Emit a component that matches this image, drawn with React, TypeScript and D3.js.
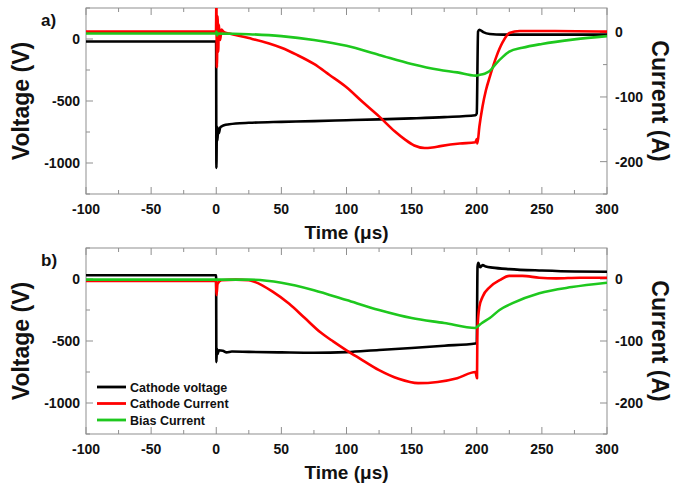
import React from "react";
import * as d3 from "d3";

// ---------- data ----------
const timeTicks = [-100, -50, 0, 50, 100, 150, 200, 250, 300];
const timeMinorTicks = [-75, -25, 25, 75, 125, 175, 225, 275];
const voltageTicks = [0, -500, -1000];
const voltageMinorTicks = [250, -250, -750, -1250];
const currentTicks = [0, -100, -200];
const currentMinorTicks = [-50, -150, -250];
const legendLabels = ["Cathode voltage", "Cathode Current", "Bias Current"];
const seriesColors = ["#000000", "#ff0000", "#1ec81e"];

// panel a) — [time µs, value]
const aCathodeVoltage: [number, number][] = [
  [-100, -20], [-0.1, -20], [0.1, -1040], [0.5, -700], [0.9, -820], [1.4, -720],
  [2, -760], [3, -715], [4, -705], [6, -695], [10, -688], [15, -682], [25, -676],
  [50, -668], [75, -662], [100, -655], [125, -648], [150, -640], [175, -630],
  [199, -615], [200, -600], [201, 60], [202, 75], [205, 55], [210, 40], [220, 35],
  [250, 35], [300, 35],
];
const aCathodeCurrent: [number, number][] = [
  [-100, 1], [-0.2, 1], [0.1, 45], [0.5, -54], [1, 25], [1.5, -30], [2, 12],
  [3, -12], [4, 4], [6, 0], [10, -2], [25, -9], [40, -17], [50, -24], [62, -35],
  [75, -49], [87, -66], [100, -85], [112, -107], [125, -130], [137, -153],
  [145, -166], [152, -175], [160, -179], [166, -178], [172, -176], [187, -172],
  [199, -170], [200, -165], [200.5, -172], [202, -146], [204.4, -115], [207, -90],
  [210, -69], [215, -38], [220, -15], [225, -1], [233, 2], [260, 2], [300, 1],
];
const aBiasCurrent: [number, number][] = [
  [-100, -2], [-0.3, -2], [0.2, 1], [0.6, -5], [1.2, -2], [25, -3], [50, -6],
  [75, -12], [100, -21], [125, -35], [150, -49], [171, -58], [185, -62],
  [199, -67], [202, -66], [206, -64], [210, -60], [215, -48], [220, -38],
  [225, -30], [235, -24], [250, -18], [275, -11], [300, -6],
];

// panel b)
const bCathodeVoltage: [number, number][] = [
  [-100, 30], [-0.1, 30], [0.1, -670], [0.5, -560], [1, -605], [2, -575],
  [5, -578], [8, -592], [12, -585], [25, -588], [50, -592], [75, -595],
  [100, -590], [125, -572], [150, -556], [175, -538], [199, -520], [200, -515],
  [200.6, 100], [201.2, 130], [202.6, 95], [204.5, 112], [207, 100], [212, 92],
  [225, 80], [250, 68], [275, 60], [300, 58],
];
const bCathodeCurrent: [number, number][] = [
  [-100, -3], [-0.2, -3], [0.2, -26], [1, -8], [4, -2], [15, -1], [25, -2],
  [30, -5], [43, -20], [56, -40], [68, -63], [80, -86], [90, -101], [100, -115],
  [110, -128], [125, -147], [140, -161], [155, -168], [170, -166], [185, -160],
  [199, -150], [200.2, -160], [200.5, -82], [202, -45], [204.4, -29], [210, -13],
  [217.5, -2], [225, 5], [235, 5], [248, 2], [261, 1], [279, 2], [300, 2],
];
const bBiasCurrent: [number, number][] = [
  [-100, -1], [25, -1], [50, -6], [75, -18], [100, -34], [125, -50],
  [150, -63], [175, -71], [199, -79], [201, -76], [204, -71], [210, -63],
  [217.5, -50], [227.5, -39], [248, -23], [273, -13], [300, -6],
];

// ---------- layout ----------
const W = 676;
const H = 494;
const X0 = 86;
const X1 = 607;
const FONT = "'Liberation Sans', Arial, sans-serif";
const FRAME = "#8f8f8f";

type PanelProps = {
  top: number;
  label: string;
  currentMax: number;
  voltage: [number, number][];
  cathode: [number, number][];
  bias: [number, number][];
  legend: boolean;
  id: string;
};

function Panel({ top, label, currentMax, voltage, cathode, bias, legend, id }: PanelProps) {
  const bottom = top + 186;
  const x = d3.scaleLinear().domain([-100, 300]).range([X0, X1]);
  const yV = d3.scaleLinear().domain([-1250, 250]).range([bottom, top]);
  const yI = d3.scaleLinear().domain([-250, currentMax]).range([bottom, top]);
  const lineV = d3.line<[number, number]>().x((d) => x(d[0])).y((d) => yV(d[1])).curve(d3.curveMonotoneX);
  const lineI = d3.line<[number, number]>().x((d) => x(d[0])).y((d) => yI(d[1])).curve(d3.curveMonotoneX);
  const midY = (top + bottom) / 2;
  const tickFont = { fontFamily: FONT, fontWeight: 700, fontSize: 14, fill: "#111" };

  return (
    <g>
      <defs>
        <clipPath id={id}>
          <rect x={X0} y={top} width={X1 - X0} height={bottom - top} />
        </clipPath>
      </defs>
      <rect x={X0} y={top} width={X1 - X0} height={bottom - top} fill="none" stroke={FRAME} strokeWidth={1} />
      {timeTicks.map((t) => (
        <g key={"xt" + t}>
          <line x1={x(t)} x2={x(t)} y1={bottom} y2={bottom - 7} stroke={FRAME} />
          <line x1={x(t)} x2={x(t)} y1={top} y2={top + 7} stroke={FRAME} />
          <text x={x(t)} y={bottom + 20} textAnchor="middle" {...tickFont}>{t}</text>
        </g>
      ))}
      {timeMinorTicks.map((t) => (
        <g key={"xm" + t}>
          <line x1={x(t)} x2={x(t)} y1={bottom} y2={bottom - 4} stroke={FRAME} />
          <line x1={x(t)} x2={x(t)} y1={top} y2={top + 4} stroke={FRAME} />
        </g>
      ))}
      {voltageTicks.map((v) => (
        <g key={"vt" + v}>
          <line x1={X0} x2={X0 + 7} y1={yV(v)} y2={yV(v)} stroke={FRAME} />
          <text x={X0 - 6} y={yV(v) + 5} textAnchor="end" {...tickFont}>{v}</text>
        </g>
      ))}
      {voltageMinorTicks.map((v) => (
        <line key={"vm" + v} x1={X0} x2={X0 + 4} y1={yV(v)} y2={yV(v)} stroke={FRAME} />
      ))}
      {currentTicks.map((c) => (
        <g key={"ct" + c}>
          <line x1={X1} x2={X1 - 7} y1={yI(c)} y2={yI(c)} stroke={FRAME} />
          <text x={X1 + 8} y={yI(c) + 5} textAnchor="start" {...tickFont}>{c}</text>
        </g>
      ))}
      {currentMinorTicks.map((c) => (
        <line key={"cm" + c} x1={X1} x2={X1 - 4} y1={yI(c)} y2={yI(c)} stroke={FRAME} />
      ))}
      <g clipPath={`url(#${id})`} fill="none" strokeWidth={2.6} strokeLinejoin="round">
        <path d={lineV(voltage) ?? ""} stroke={seriesColors[0]} />
        <path d={lineI(cathode) ?? ""} stroke={seriesColors[1]} />
        <path d={lineI(bias) ?? ""} stroke={seriesColors[2]} />
      </g>
      <text
        transform={`translate(29,${midY}) rotate(-90)`}
        textAnchor="middle"
        fontFamily={FONT}
        fontWeight={700}
        fontSize={23}
        fill="#111"
      >
        Voltage (V)
      </text>
      <text
        transform={`translate(652,${midY}) rotate(90)`}
        textAnchor="middle"
        fontFamily={FONT}
        fontWeight={700}
        fontSize={23}
        fill="#111"
      >
        Current (A)
      </text>
      <text x={(X0 + X1) / 2} y={bottom + 45} textAnchor="middle" fontFamily={FONT} fontWeight={700} fontSize={19} fill="#111">
        Time (μs)
      </text>
      <text x={41} y={top + 18} fontFamily={FONT} fontWeight={700} fontSize={17} fill="#111">
        {label}
      </text>
      {legend &&
        legendLabels.map((name, i) => (
          <g key={name}>
            <line x1={97} x2={126} y1={top + 139 + i * 16.5} y2={top + 139 + i * 16.5} stroke={seriesColors[i]} strokeWidth={2.8} />
            <text x={130} y={top + 143.5 + i * 16.5} fontFamily={FONT} fontWeight={700} fontSize={12.5} fill="#111">
              {name}
            </text>
          </g>
        ))}
    </g>
  );
}

export default function App() {
  return (
    <svg width={W} height={H} style={{ position: "absolute", left: 0, top: 0, background: "#fff" }}>
      <rect width={W} height={H} fill="#fff" />
      <Panel top={8} label="a)" currentMax={37.5} voltage={aCathodeVoltage} cathode={aCathodeCurrent} bias={aBiasCurrent} legend={false} id="clipA" />
      <Panel top={248} label="b)" currentMax={50} voltage={bCathodeVoltage} cathode={bCathodeCurrent} bias={bBiasCurrent} legend={true} id="clipB" />
    </svg>
  );
}
